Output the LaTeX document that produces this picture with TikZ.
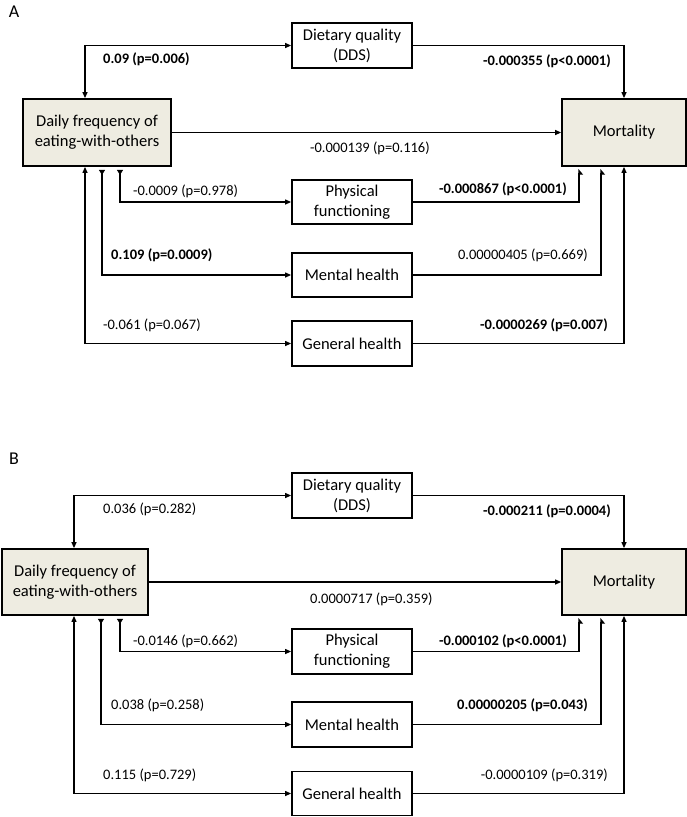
\documentclass[tikz,border=0pt]{standalone}
\usepackage{fontspec}
\setmainfont{Carlito}
\usetikzlibrary{arrows.meta}
\definecolor{beige}{HTML}{EEECE1}
\tikzset{
  box/.style={draw=black, line width=1.8pt, inner sep=0pt, align=center,
    font=\fontsize{16.5}{20}\selectfont},
  mainbox/.style={box, fill=beige},
  conn/.style={draw=black, line width=1.2pt},
  tipA/.style={-{Triangle[length=6pt,width=5pt]}},
  tipB/.style={{Triangle[length=6pt,width=5pt]}-{Triangle[length=6pt,width=5pt]}},
  oddtip/.style={{Triangle[reversed,length=5pt,width=6pt]}-{Triangle[length=6pt,width=5pt]}, shorten <=3pt},
  flagtip/.style={-{Triangle[right,length=5pt,width=8pt]}, shorten >=2pt},
  lab/.style={inner sep=0pt, font=\fontsize{14.5}{17}\selectfont},
  blab/.style={lab, font=\fontsize{14.5}{17}\selectfont\bfseries},
  panel/.style={inner sep=0pt, font=\fontsize{18}{20}\selectfont}
}
\begin{document}
\begin{tikzpicture}[x=1pt,y=-1pt]
\useasboundingbox (0,0) rectangle (687,817);
% ---------------- Panel A
\node[panel] (pA) at (14,12) {A};
\node[mainbox, minimum width=148pt, minimum height=67pt] (dA) at (97,132.5) {Daily frequency of\\eating-with-others};
\node[mainbox, minimum width=124pt, minimum height=67pt] (mA) at (624,132.5) {Mortality};
\node[box, minimum width=120pt, minimum height=45pt] (dietA) at (352,45.5) {Dietary quality\\(DDS)};
\node[box, minimum width=120pt, minimum height=44pt] (physA) at (352,202) {Physical\\functioning};
\node[box, minimum width=120pt, minimum height=44pt] (mentA) at (352,275) {Mental health};
\node[box, minimum width=120pt, minimum height=45pt] (genA) at (352,343.5) {General health};

\draw[conn, tipB] ([xshift=-12pt]dA.north) |- (dietA.west);
\draw[conn, tipA] (dietA.east) -| (mA.north);
\draw[conn, tipA] (dA.east) -- (mA.west);
\draw[conn, oddtip] ([xshift=23pt]dA.south) |- (physA.west);
\draw[conn, oddtip] ([xshift=5pt]dA.south) |- (mentA.west);
\draw[conn, tipB] ([xshift=-12pt]dA.south) |- (genA.west);
\draw[conn, flagtip] (physA.east) -| ([xshift=-45pt]mA.south);
\draw[conn, flagtip] (mentA.east) -| ([xshift=-23pt]mA.south);
\draw[conn, tipA] (genA.east) -| (mA.south);

\node[blab, anchor=west] (lA1) at (103,59) {0.09 (p=0.006)};
\node[blab, anchor=east] (lA2) at (611,61) {-0.000355 (p<0.0001)};
\node[lab, anchor=west] (lA3) at (310,148) {-0.000139 (p=0.116)};
\node[lab, anchor=west] (lA4) at (133,191) {-0.0009 (p=0.978)};
\node[blab, anchor=east] (lA5) at (567,189) {-0.000867 (p<0.0001)};
\node[blab, anchor=west] (lA6) at (111,255) {0.109 (p=0.0009)};
\node[lab, anchor=east] (lA7) at (588,255) {0.00000405 (p=0.669)};
\node[lab, anchor=west] (lA8) at (103,325) {-0.061 (p=0.067)};
\node[blab, anchor=east] (lA9) at (608,325) {-0.0000269 (p=0.007)};

% ---------------- Panel B
\node[panel] (pB) at (14,459) {B};
\node[mainbox, minimum width=146pt, minimum height=66pt] (dB) at (75,582) {Daily frequency of\\eating-with-others};
\node[mainbox, minimum width=124pt, minimum height=66pt] (mB) at (624,582) {Mortality};
\node[box, minimum width=120pt, minimum height=45pt] (dietB) at (352,495.5) {Dietary quality\\(DDS)};
\node[box, minimum width=120pt, minimum height=45pt] (physB) at (352,651.5) {Physical\\functioning};
\node[box, minimum width=120pt, minimum height=45pt] (mentB) at (352,724.5) {Mental health};
\node[box, minimum width=120pt, minimum height=44pt] (genB) at (352,793.5) {General health};

\draw[conn, tipB] ([xshift=-1pt]dB.north) |- (dietB.west);
\draw[conn, tipA] (dietB.east) -| (mB.north);
\draw[conn, tipA] (dB.east) -- (mB.west);
\draw[conn, oddtip] ([xshift=45pt]dB.south) |- (physB.west);
\draw[conn, oddtip] ([xshift=26pt]dB.south) |- (mentB.west);
\draw[conn, tipB] ([xshift=-1pt]dB.south) |- (genB.west);
\draw[conn, flagtip] (physB.east) -| ([xshift=-45pt]mB.south);
\draw[conn, flagtip] (mentB.east) -| ([xshift=-23pt]mB.south);
\draw[conn, tipA] (genB.east) -| (mB.south);

\node[lab, anchor=west] (lB1) at (103,509) {0.036 (p=0.282)};
\node[blab, anchor=east] (lB2) at (611,511) {-0.000211 (p=0.0004)};
\node[lab, anchor=west] (lB3) at (310,599) {0.0000717 (p=0.359)};
\node[lab, anchor=west] (lB4) at (133,641) {-0.0146 (p=0.662)};
\node[blab, anchor=east] (lB5) at (567,641) {-0.000102 (p<0.0001)};
\node[lab, anchor=west] (lB6) at (111,705) {0.038 (p=0.258)};
\node[blab, anchor=east] (lB7) at (588,705) {0.00000205 (p=0.043)};
\node[lab, anchor=west] (lB8) at (103,775) {0.115 (p=0.729)};
\node[lab, anchor=east] (lB9) at (608,775) {-0.0000109 (p=0.319)};
\end{tikzpicture}
\end{document}
